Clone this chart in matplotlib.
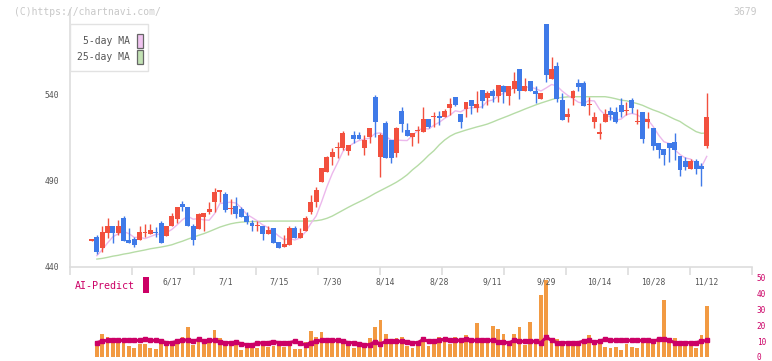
import numpy as np
import matplotlib
matplotlib.use("Agg")
import matplotlib.pyplot as plt
from matplotlib.patches import Rectangle
from matplotlib.transforms import blended_transform_factory

nan = np.nan

# daily candles, 2020-05-27 .. 2020-11-12 (index 0 .. 115)
opens = [455.4, 457.4, 451.2, 459.6, 463.8, 460.0, 468.5, 455.9, 456.3, 455.9,
         459.7, 459.2, 460.1, 465.8, 458.2, 463.8, 468.1, 476.8, 474.9, 464.0,
         462.1, 469.3, 472.0, 477.6, 483.4, 482.4, 473.7, 475.6, 473.7, 469.6,
         465.8, 463.9, 464.0, 459.2, 462.9, 454.3, 451.8, 452.8, 462.9, 457.0,
         460.9, 472.2, 477.6, 489.6, 495.4, 504.1, 509.4, 509.4, 507.6, 516.7,
         516.7, 509.4, 515.8, 539.0, 504.1, 523.9, 513.8, 506.5, 530.7, 519.6,
         515.8, 518.9, 518.7, 526.0, 527.0, 528.0, 527.2, 532.6, 539.0, 528.9,
         531.7, 537.1, 532.6, 542.9, 538.4, 542.3, 539.6, 545.2, 539.6, 543.5,
         555.1, 542.3, 548.1, 542.3, 537.7, 581.3, 549.3, 556.8, 537.1, 527.2,
         538.4, 546.8, 546.8, 534.1, 524.5, 517.6, 524.5, 530.7, 529.9, 534.2,
         530.6, 537.1, 524.4, 530.3, 524.5, 520.6, 512.3, 508.6, 512.3, 512.7,
         504.5, 501.6, 497.0, 501.6, 498.7, 510.5]
highs = [455.6, 458.6, 464.0, 468.3, 463.8, 467.3, 469.7, 462.5, 457.6, 463.8,
         464.8, 464.8, 463.5, 466.9, 463.8, 471.2, 474.9, 478.4, 474.9, 464.8,
         471.6, 471.6, 477.6, 485.7, 484.8, 483.8, 479.5, 480.7, 475.1, 472.2,
         467.3, 466.9, 464.0, 464.0, 462.9, 454.3, 458.6, 463.8, 463.8, 462.5,
         469.6, 481.8, 486.3, 497.4, 504.5, 509.4, 512.9, 519.1, 510.9, 519.1,
         518.7, 516.7, 520.8, 540.0, 517.7, 524.9, 513.8, 521.6, 533.2, 523.9,
         518.1, 522.0, 533.0, 526.0, 529.9, 530.7, 531.8, 538.0, 539.0, 528.9,
         535.7, 537.1, 542.3, 542.9, 542.3, 543.5, 545.8, 545.8, 545.2, 553.2,
         555.1, 550.1, 548.1, 545.2, 541.0, 581.3, 561.9, 559.0, 541.0, 532.2,
         542.9, 549.3, 548.1, 538.8, 529.9, 523.5, 531.7, 533.0, 533.0, 538.0,
         535.7, 538.0, 531.7, 530.3, 529.9, 520.6, 512.3, 508.6, 512.3, 518.1,
         504.5, 504.1, 502.8, 502.8, 500.3, 541.0]
lows = [455.4, 447.4, 448.5, 457.0, 454.2, 458.6, 455.3, 454.2, 451.8, 455.9,
        457.6, 459.2, 457.6, 454.2, 458.2, 463.8, 465.4, 472.8, 464.0, 452.8,
        462.1, 460.9, 471.0, 472.2, 478.0, 472.2, 470.8, 468.3, 469.3, 464.8,
        461.1, 461.1, 455.7, 459.2, 454.1, 451.2, 451.8, 452.8, 457.0, 457.0,
        460.9, 470.8, 475.1, 489.6, 495.4, 499.3, 503.6, 508.2, 505.1, 512.1,
        514.4, 505.1, 512.3, 515.6, 492.5, 503.6, 500.6, 504.1, 518.5, 516.3,
        510.5, 512.3, 518.7, 520.6, 521.6, 522.5, 527.2, 528.4, 533.8, 520.6,
        527.0, 528.9, 530.3, 532.6, 534.2, 535.7, 535.7, 535.1, 534.2, 541.0,
        537.7, 542.3, 542.3, 535.1, 537.7, 547.7, 549.3, 535.7, 525.5, 524.1,
        534.2, 542.3, 533.8, 528.4, 520.6, 514.4, 524.5, 525.5, 523.5, 527.4,
        528.4, 529.7, 523.1, 512.3, 520.6, 508.0, 503.6, 499.3, 501.2, 502.2,
        493.1, 496.4, 497.0, 494.1, 487.3, 509.4]
closes = [455.6, 448.5, 460.2, 463.8, 460.0, 463.8, 455.3, 454.2, 452.8, 460.4,
          459.9, 461.5, 459.9, 454.2, 463.8, 469.7, 474.9, 474.9, 464.0, 455.7,
          471.0, 471.6, 473.5, 483.4, 484.8, 473.1, 473.9, 470.8, 469.3, 466.0,
          464.0, 464.1, 459.2, 461.5, 454.1, 451.2, 453.5, 462.9, 457.0, 460.0,
          468.7, 478.0, 484.8, 497.4, 504.1, 507.0, 509.8, 517.9, 510.9, 514.4,
          514.4, 513.8, 520.8, 524.5, 516.7, 503.6, 503.6, 520.8, 523.3, 516.3,
          518.1, 519.1, 526.0, 521.4, 527.2, 526.8, 530.7, 535.0, 534.2, 524.5,
          535.7, 533.8, 534.8, 536.7, 541.0, 539.4, 545.8, 541.9, 545.2, 548.1,
          542.3, 545.2, 542.3, 540.6, 541.0, 551.6, 555.1, 537.7, 525.5, 528.9,
          542.3, 544.8, 533.8, 534.3, 527.0, 517.8, 528.9, 528.4, 524.5, 530.3,
          530.8, 532.6, 524.6, 514.4, 526.0, 510.5, 508.0, 505.1, 509.4, 508.0,
          496.4, 498.3, 501.6, 497.0, 497.2, 527.2]

ma5 = [nan, 446.6, 450.0, 454.0, 457.6, 459.3, 460.6, 459.4, 457.2, 457.3,
       456.5, 457.7, 458.9, 459.2, 459.9, 461.8, 464.5, 467.5, 469.5, 467.8,
       468.1, 467.4, 467.2, 471.0, 476.9, 477.3, 477.7, 477.2, 474.4, 470.6,
       468.8, 466.8, 464.5, 462.9, 460.6, 458.0, 455.9, 456.6, 455.7, 456.9,
       460.4, 465.3, 469.7, 477.8, 486.6, 494.3, 500.6, 507.2, 509.9, 512.0,
       513.5, 514.3, 514.9, 517.6, 518.0, 515.9, 513.8, 513.8, 513.6, 513.5,
       516.4, 519.5, 520.6, 520.2, 522.4, 524.1, 526.4, 528.2, 530.8, 530.2,
       532.0, 532.6, 532.6, 533.1, 536.4, 537.1, 539.5, 541.0, 542.7, 544.1,
       544.7, 544.5, 544.6, 543.7, 542.3, 544.1, 546.1, 545.2, 542.2, 539.8,
       537.9, 535.8, 535.1, 536.8, 536.5, 531.5, 528.4, 527.3, 525.3, 526.0,
       528.6, 529.3, 528.5, 526.5, 525.6, 521.6, 516.7, 512.8, 511.8, 508.2,
       505.4, 503.4, 502.7, 500.3, 498.1, 504.3]
ma25 = [nan, 444.6, 445.0, 445.6, 446.3, 446.8, 447.5, 448.0, 448.7, 449.3,
        449.9, 450.6, 451.1, 451.6, 452.2, 452.9, 454.0, 455.0, 456.2, 457.3,
        458.4, 459.4, 460.6, 461.9, 463.2, 464.2, 465.1, 465.7, 466.1, 466.3,
        466.4, 466.5, 466.6, 466.7, 466.7, 466.7, 466.7, 466.7, 466.7, 466.7,
        466.7, 466.7, 466.9, 467.4, 468.3, 469.6, 471.3, 473.0, 474.7, 476.3,
        477.8, 479.3, 481.0, 482.8, 484.4, 486.0, 487.6, 489.3, 491.3, 493.6,
        496.5, 499.0, 501.8, 504.9, 507.6, 511.0, 513.8, 516.0, 517.6, 518.6,
        519.6, 520.5, 521.4, 522.2, 523.1, 524.3, 525.6, 526.8, 528.0, 529.3,
        530.5, 531.8, 533.0, 534.2, 535.3, 536.3, 537.3, 538.2, 538.6, 538.9,
        539.0, 539.0, 539.0, 539.0, 539.0, 539.0, 539.0, 538.5, 537.8, 537.0,
        536.6, 535.8, 535.0, 534.0, 532.6, 531.3, 530.2, 528.9, 527.4, 525.9,
        524.6, 522.5, 520.6, 518.7, 517.7, 517.9]

volume = [nan, 10.0, 14.7, 12.3, 9.4, 9.4, 9.4, 6.9, 5.4, 7.9,
          7.9, 5.4, 4.8, 11.0, 6.9, 9.4, 10.0, 12.3, 18.5, 7.3,
          10.0, 9.0, 8.6, 17.2, 11.6, 6.9, 6.9, 8.6, 4.4, 6.0,
          5.4, 5.4, 7.3, 6.0, 7.1, 7.3, 6.0, 7.3, 4.8, 4.8,
          9.4, 16.0, 12.4, 15.4, 9.0, 9.0, 8.6, 9.0, 7.9, 5.4,
          6.5, 7.4, 11.6, 19.1, 23.4, 14.7, 8.4, 11.6, 12.3, 6.9,
          5.4, 9.0, 11.0, 6.9, 10.0, 12.3, 12.3, 7.9, 12.3, 10.0,
          13.5, 10.0, 21.0, 11.6, 11.6, 19.7, 17.8, 14.1, 7.5, 14.1,
          18.5, 7.5, 22.2, 10.0, 39.0, 48.5, 11.0, 11.0, 9.4, 7.9,
          6.9, 6.9, 10.0, 13.5, 10.0, 11.0, 6.5, 5.4, 6.0, 4.4,
          7.9, 6.0, 5.4, 10.0, 9.0, 7.9, 11.0, 35.9, 9.0, 11.6,
          9.0, 9.0, 6.9, 5.4, 13.5, 31.8]
ai_predict = [nan, 9.0, 10.0, 10.4, 10.4, 10.4, 10.4, 10.4, 10.4, 10.4,
              11.0, 10.4, 10.4, 9.8, 9.0, 9.0, 9.8, 10.6, 10.6, 9.8,
              11.0, 9.8, 10.4, 10.4, 9.4, 9.0, 9.0, 9.2, 8.3, 7.7,
              7.7, 8.5, 9.0, 9.0, 9.6, 9.0, 9.0, 9.0, 9.8, 8.5,
              7.7, 9.0, 9.8, 10.4, 10.4, 10.4, 10.4, 9.8, 9.0, 9.0,
              8.3, 7.7, 7.7, 9.6, 8.2, 9.8, 9.8, 9.8, 9.8, 9.4,
              9.0, 9.0, 11.0, 9.8, 10.0, 10.4, 11.2, 10.4, 10.4, 10.4,
              11.2, 10.4, 10.4, 10.4, 10.4, 10.4, 9.6, 9.4, 8.8, 10.4,
              9.8, 9.8, 9.8, 9.8, 9.0, 12.4, 10.4, 9.0, 9.0, 9.0,
              9.0, 9.0, 10.0, 10.4, 9.2, 10.0, 11.0, 10.4, 10.4, 10.4,
              10.4, 10.4, 10.4, 10.4, 10.4, 9.8, 11.0, 11.0, 10.4, 9.0,
              9.0, 9.0, 9.0, 9.0, 9.8, 10.4]

date_labels = ['6/17', '7/1', '7/15', '7/30', '8/14', '8/28', '9/11',
               '9/29', '10/14', '10/28', '11/12']
date_index = [15, 25, 35, 45, 55, 65, 75, 85, 95, 105, 115]
price_ticks = [440, 490, 540]
ai_ticks = [0, 10, 20, 30, 40, 50]

RED = '#f2503e'
BLUE = '#3f7ae8'
ORANGE = '#f29a42'
CRIMSON = '#cc0066'
PINK = '#ecb8ec'
GREEN = '#b6dca6'
TXT = '#555555'
MONO = 'DejaVu Sans Mono'

W, H = 772, 361


def fx(px):
    return px / W


def fy(py):
    return 1 - py / H


fig = plt.figure(figsize=(W / 100, H / 100), dpi=100)
fig.patch.set_facecolor('white')

# volume / AI panel (drawn first, transparent, so the date row stays visible)
axv = fig.add_axes([fx(70), fy(357), fx(752) - fx(70), fy(270) - fy(357)])
axv.patch.set_visible(False)
x = np.arange(len(closes))
axv.bar(x, volume, width=0.7, color=ORANGE, linewidth=0, zorder=1)
axv.plot(x, ai_predict, color=CRIMSON, lw=2.2, marker='s', ms=2.6,
         zorder=2)
axv.set_xlim(-4.02, 123.46)
axv.set_ylim(0, 54.5)
for s in axv.spines.values():
    s.set_visible(False)
axv.set_xticks([])
axv.yaxis.tick_right()
axv.set_yticks(ai_ticks)
axv.set_yticklabels([str(t) for t in ai_ticks])
axv.tick_params(axis='y', length=0, pad=3.5, labelsize=5.6,
                labelcolor=CRIMSON)
for lab in axv.get_yticklabels():
    lab.set_family(MONO)

# price panel
ax = fig.add_axes([fx(70), fy(267), fx(752) - fx(70), fy(10) - fy(267)])
ax.patch.set_visible(False)
o = np.array(opens)
c = np.array(closes)
colors = np.where(c >= o, RED, BLUE)

ax.plot(x, ma25, color=GREEN, lw=1.0, zorder=1)
ax.plot(x, ma5, color=PINK, lw=1.0, zorder=1)
ax.vlines(x, lows, highs, colors=colors, lw=1.0, zorder=2)
ax.bar(x, np.maximum(np.abs(c - o), 0.6), bottom=np.minimum(o, c),
       width=0.92, color=colors, linewidth=0, zorder=3)

ax.set_xlim(-4.02, 123.46)
ax.set_ylim(440, 589.4)
for s in ['top', 'right']:
    ax.spines[s].set_visible(False)
for s in ['left', 'bottom']:
    ax.spines[s].set_color('#dddddd')
    ax.spines[s].set_linewidth(1.2)
ax.set_xticks(np.linspace(-4.02, 123.46, 12))
ax.tick_params(axis='x', length=6, width=1.2, color='#dddddd',
               direction='out', labelbottom=False)
ax.set_yticks(price_ticks)
ax.set_yticklabels([str(t) for t in price_ticks])
ax.tick_params(axis='y', length=0, pad=8, labelsize=5.8, labelcolor=TXT)
for lab in ax.get_yticklabels():
    lab.set_family(MONO)

trans = blended_transform_factory(ax.transData, fig.transFigure)
for i, lab in zip(date_index, date_labels):
    ax.text(i, fy(282), lab, transform=trans, ha='center', va='center',
            fontsize=5.8, color=TXT, family=MONO, clip_on=False)

fig.text(fx(75), fy(286), 'AI-Predict', color=CRIMSON, fontsize=7.2,
         family=MONO, va='center', ha='left')
fig.add_artist(Rectangle((fx(142.5), fy(293)), fx(6.5), 16 / H,
                         transform=fig.transFigure, color=CRIMSON, lw=0))

# legend box
fig.add_artist(Rectangle((fx(70), fy(71)), fx(78), 47 / H,
                         transform=fig.transFigure, facecolor='white',
                         edgecolor='#e2e2e2', lw=1, zorder=5))
for row, (lab, col) in enumerate([('5-day MA', '#f0c4f0'),
                                  ('25-day MA', '#c2e2b4')]):
    yc = 40.5 + 16.7 * row
    fig.text(fx(130), fy(yc), lab, color=TXT, fontsize=7, family=MONO,
             ha='right', va='center', zorder=6)
    fig.add_artist(Rectangle((fx(137), fy(yc + 7)), fx(5.5), 14 / H,
                             transform=fig.transFigure, facecolor=col,
                             edgecolor='#666666', lw=0.9, zorder=6))

# watermark and code
fig.text(fx(14), fy(12), '(C)https://chartnavi.com/', color='#c8c8c8',
         fontsize=7, family=MONO, va='center', ha='left')
fig.text(fx(757), fy(12), '3679', color='#c8c8c8', fontsize=7,
         family=MONO, va='center', ha='right')

fig.savefig('out.png', dpi=100)
